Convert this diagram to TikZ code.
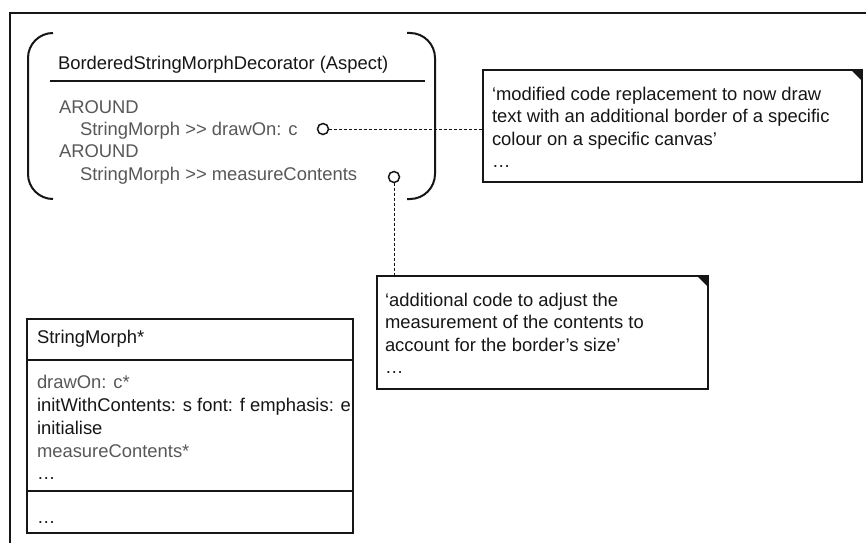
\documentclass[tikz,border=0pt]{standalone}
\usepackage{fontspec}
\setmainfont{Liberation Sans}
\definecolor{ink}{RGB}{22,22,22}
\definecolor{softgray}{RGB}{88,88,88}
\newcommand{\sendop}{>\kern0pt>}
\begin{document}
\begin{tikzpicture}[x=1pt,y=-1pt,
  every node/.style={inner sep=0pt, outer sep=0pt},
  txt/.style={anchor=base west, font=\fontsize{18.4}{22}\selectfont, text=ink},
  soft/.style={txt, text=softgray},
  box/.style={draw=ink, line width=1.5pt, anchor=north west, fill=white},
  lead/.style={draw=ink, line width=0.9pt, dash pattern=on 3pt off 2pt},
  pin/.style={circle, draw=ink, line width=1.5pt, fill=white, minimum size=11pt},
  bracket/.style={draw=ink, line width=2pt, rounded corners=25pt},
  rule/.style={draw=ink, line width=1.5pt}]

\useasboundingbox (0,0) rectangle (866,543);
\fill[white] (0,0) rectangle (866,543);

% outer frame (open towards right and bottom)
\draw[ink, line width=2.2pt] (866,13) -- (10,13) -- (10,543);

% aspect: bracketed compartment
\draw[bracket] (53,33) -- (28,33) -- (28,199) -- (53,199);
\draw[bracket] (407,33) -- (435,33) -- (435,199) -- (407,199);
\node[txt] (aspTitle) at (58,70) {BorderedStringMorphDecorator (Aspect)};
\coordinate (aspRuleL) at (50,81);
\coordinate (aspRuleR) at (425,81);
\draw[rule] (aspRuleL) -- (aspRuleR);
\node[soft] (around1) at (59,113) {AROUND};
\node[soft] (advDraw) at (80,135) {StringMorph \sendop{} drawOn: c};
\node[soft] (around2) at (59,157) {AROUND};
\node[soft] (advMeasure) at (80,180) {StringMorph \sendop{} measureContents};

% notes
\node[box, minimum width=379pt, minimum height=112pt] (noteA) at (483,70) {};
\fill[ink] (noteA.north east) -- ++(-11,0) -- ++(11,11) -- cycle;
\node[txt] (noteA1) at (492,100.5) {‘modified code replacement to now draw};
\node[txt] (noteA2) at (492,122.5) {text with an additional border of a specific};
\node[txt] (noteA3) at (492,145) {colour on a specific canvas’};
\node[txt] (noteA4) at (492,167) {…};

\node[box, minimum width=331pt, minimum height=113pt] (noteB) at (377,276) {};
\fill[ink] (noteB.north east) -- ++(-11,0) -- ++(11,11) -- cycle;
\node[txt] (noteB1) at (385,306.5) {‘additional code to adjust the};
\node[txt] (noteB2) at (385,328.5) {measurement of the contents to};
\node[txt] (noteB3) at (385,351) {account for the border’s size’};
\node[txt] (noteB4) at (385,373) {…};

% join points and their leads
\node[pin] (hookA) at (323,129) {};
\node[pin] (hookB) at (394,177) {};
\draw[lead] (hookA) -- (hookA -| noteA.west);
\draw[lead] (hookB) -- (hookB |- noteB.north);

% class StringMorph
\node[box, minimum width=326pt, minimum height=214pt] (cls) at (27,319) {};
\draw[rule] (cls.west |- 0,360) -- (cls.east |- 0,360);
\draw[rule] (cls.west |- 0,491) -- (cls.east |- 0,491);
\node[txt] (clsName) at (37,343) {StringMorph*};
\node[soft] (mDraw) at (37,388) {drawOn: c*};
\node[txt] (mInit) at (37,411) {initWithContents: s font: f emphasis: e};
\node[txt] (mInitialise) at (37,434) {initialise};
\node[soft] (mMeasure) at (37,457) {measureContents*};
\node[txt] (mMore) at (37,479) {…};
\node[txt] (aMore) at (37,523) {…};
\end{tikzpicture}
\end{document}
